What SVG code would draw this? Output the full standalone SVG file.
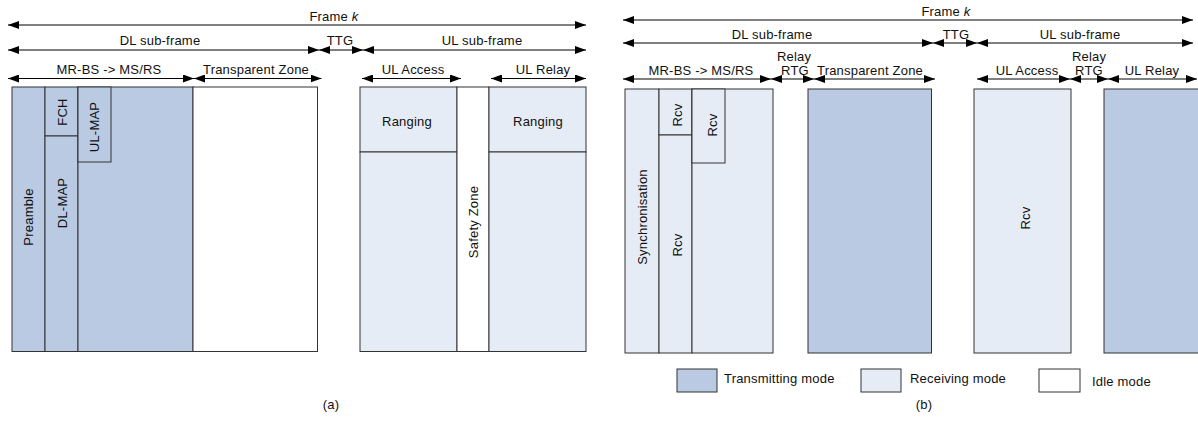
<svg xmlns="http://www.w3.org/2000/svg" width="1198" height="426" viewBox="0 0 1198 426">
<style>
text{font-family:"Liberation Sans",Arial,sans-serif;font-size:13px;letter-spacing:0.2px;fill:#111}
.c{text-anchor:middle}
.r{text-anchor:middle;dominant-baseline:central}
.tx{fill:#b9cae2;stroke:#333;stroke-width:1}
.rx{fill:#e6ecf6;stroke:#333;stroke-width:1}
.id{fill:#fff;stroke:#333;stroke-width:1}
.ar{stroke:#000;stroke-width:1;fill:none;marker-start:url(#ah);marker-end:url(#ah)}
</style>
<defs>
<marker id="ah" markerUnits="userSpaceOnUse" markerWidth="11" markerHeight="8" refX="11" refY="4" orient="auto-start-reverse"><path d="M0,0 L11,4 L0,8 Z" fill="#000"/></marker>
</defs>
<rect width="1198" height="426" fill="#fff"/>
<g id="connectors">
<line class="ar" x1="8" y1="25" x2="586" y2="25"/>
<line class="ar" x1="8" y1="50" x2="319" y2="50"/>
<line class="ar" x1="319" y1="50" x2="363" y2="50"/>
<line class="ar" x1="363" y1="50" x2="586" y2="50"/>
<line class="ar" x1="8" y1="78.5" x2="194" y2="78.5"/>
<line class="ar" x1="194" y1="78.5" x2="321.5" y2="78.5"/>
<line class="ar" x1="362" y1="78.5" x2="461" y2="78.5"/>
<line class="ar" x1="491" y1="78.5" x2="586" y2="78.5"/>
<line class="ar" x1="623" y1="20" x2="1193" y2="20"/>
<line class="ar" x1="623" y1="43" x2="933" y2="43"/>
<line class="ar" x1="933" y1="43" x2="977" y2="43"/>
<line class="ar" x1="977" y1="43" x2="1193" y2="43"/>
<line class="ar" x1="623" y1="79" x2="771" y2="79"/>
<line class="ar" x1="771" y1="79" x2="814" y2="79"/>
<line class="ar" x1="814" y1="79" x2="935" y2="79"/>
<line class="ar" x1="977" y1="79" x2="1070" y2="79"/>
<line class="ar" x1="1070" y1="79" x2="1108" y2="79"/>
<line class="ar" x1="1108" y1="79" x2="1197" y2="79"/>
</g>
<g id="labels-a">
<text class="c" x="334" y="21">Frame <tspan font-style="italic">k</tspan></text>
<text class="c" x="160" y="45">DL sub-frame</text>
<text class="c" x="340" y="45">TTG</text>
<text class="c" x="482" y="45">UL sub-frame</text>
<text class="c" x="109" y="74">MR-BS -&gt; MS/RS</text>
<text class="c" x="256" y="74">Transparent Zone</text>
<text class="c" x="413" y="74">UL Access</text>
<text class="c" x="543" y="74">UL Relay</text>
</g>
<g id="labels-b">
<text class="c" x="946" y="16">Frame <tspan font-style="italic">k</tspan></text>
<text class="c" x="772" y="39">DL sub-frame</text>
<text class="c" x="956" y="39">TTG</text>
<text class="c" x="1080" y="39">UL sub-frame</text>
<text class="c" x="794" y="61">Relay</text>
<text class="c" x="795" y="75">RTG</text>
<text class="c" x="1089" y="61">Relay</text>
<text class="c" x="1089" y="75">RTG</text>
<text class="c" x="701" y="75">MR-BS -&gt; MS/RS</text>
<text class="c" x="870" y="75">Transparent Zone</text>
<text class="c" x="1027" y="75">UL Access</text>
<text class="c" x="1152" y="75">UL Relay</text>
</g>
<g id="preamble"><rect class="tx" x="12" y="87" width="33" height="264.5"/><text class="r" transform="translate(28,217) rotate(-90)">Preamble</text></g>
<g id="fch"><rect class="tx" x="45" y="87" width="33" height="49"/><text class="r" transform="translate(62,112) rotate(-90)">FCH</text></g>
<g id="dl-map"><rect class="tx" x="45" y="136" width="33" height="215.5"/><text class="r" transform="translate(62,203) rotate(-90)">DL-MAP</text></g>
<g id="dl-burst"><rect class="tx" x="78" y="87" width="115" height="264.5"/></g>
<g id="ul-map"><rect class="tx" x="78" y="87" width="33" height="75"/><text class="r" transform="translate(94,127) rotate(-90)">UL-MAP</text></g>
<g id="transparent-a"><rect class="id" x="193" y="87" width="124.5" height="264.5"/></g>
<g id="ranging-1"><rect class="rx" x="360" y="87" width="97" height="65"/><text class="c" x="407" y="126">Ranging</text></g>
<g id="ul-access-a"><rect class="rx" x="360" y="152" width="97" height="199.5"/></g>
<g id="safety"><rect class="id" x="457" y="87" width="32" height="264.5"/><text class="r" transform="translate(473,222) rotate(-90)">Safety Zone</text></g>
<g id="ranging-2"><rect class="rx" x="489" y="87" width="97" height="65"/><text class="c" x="538" y="126">Ranging</text></g>
<g id="ul-relay-a"><rect class="rx" x="489" y="152" width="97" height="199.5"/></g>
<g id="sync"><rect class="rx" x="625" y="89" width="34" height="264"/><text class="r" transform="translate(642,217) rotate(-90)">Synchronisation</text></g>
<g id="rcv1"><rect class="rx" x="659" y="89" width="33" height="46"/><text class="r" transform="translate(677,115) rotate(-90)">Rcv</text></g>
<g id="rcv2"><rect class="rx" x="659" y="135" width="33" height="218"/><text class="r" transform="translate(677,245) rotate(-90)">Rcv</text></g>
<g id="rcv-area"><rect class="rx" x="692" y="89" width="81" height="264"/></g>
<g id="rcv3"><rect class="rx" x="692" y="89" width="33" height="74"/><text class="r" transform="translate(712,125) rotate(-90)">Rcv</text></g>
<g id="transparent-b"><rect class="tx" x="808" y="89" width="123.5" height="264"/></g>
<g id="rcv4"><rect class="rx" x="974" y="89" width="97" height="264"/><text class="r" transform="translate(1025,218) rotate(-90)">Rcv</text></g>
<g id="ul-relay-b"><rect class="tx" x="1104" y="89" width="100" height="264"/></g>
<g id="legend">
<rect class="tx" x="677" y="369" width="40" height="23"/><text x="724" y="383">Transmitting mode</text>
<rect class="rx" x="861" y="369" width="40" height="23"/><text x="910" y="383">Receiving mode</text>
<rect class="id" x="1039" y="369" width="41" height="23"/><text x="1092" y="386">Idle mode</text>
</g>
<g id="captions">
<text class="c" x="331" y="409">(a)</text>
<text class="c" x="924" y="409">(b)</text>
</g>
</svg>
